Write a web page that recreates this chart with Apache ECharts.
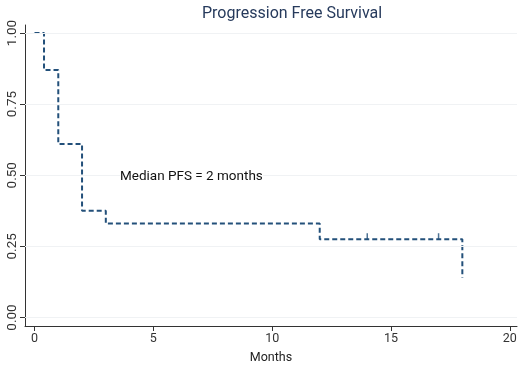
<!DOCTYPE html>
<html>
<head>
<meta charset="utf-8">
<script src="https://cdn.jsdelivr.net/npm/echarts@6/dist/echarts.min.js"></script>
<style>
  html, body { margin: 0; padding: 0; background: #fff; }
  #chart { width: 520px; height: 369px; }
</style>
</head>
<body>
<div id="chart"></div>
<script>
// Kaplan-Meier step points (months, survival)
const months = [0, 0.4, 1, 2, 3, 12, 18];
const survival = [1, 0.87, 0.61, 0.375, 0.33, 0.275, 0.14];
// censored observations
const censorMonths = [14, 17];
const censorSurvival = [0.275, 0.275];

const xTicks = [0, 5, 10, 15, 20];
const yTicks = [0, 0.25, 0.5, 0.75, 1];
const yTickLabels = ["0.00", "0.25", "0.50", "0.75", "1.00"];

const lineColor = "#23507a";
const font = "Roboto";

const chart = echarts.init(document.getElementById("chart"));

chart.setOption({
  backgroundColor: "#ffffff",
  animation: false,
  title: {
    text: "Progression Free Survival",
    left: 197,
    top: 1,
    textStyle: {
      fontFamily: font,
      fontSize: 16,
      fontWeight: "normal",
      color: "#263a5c",
    },
  },
  grid: {
    left: 25,
    right: 3,
    top: 25,
    bottom: 37,
  },
  xAxis: {
    type: "value",
    min: -0.4,
    max: 20.3,
    name: "Months",
    nameLocation: "middle",
    nameGap: 25,
    nameTextStyle: { fontFamily: font, fontSize: 12.5, color: "#222" },
    axisLine: { show: true, onZero: false, lineStyle: { color: "#333", width: 1 } },
    axisTick: {
      show: true,
      length: 5,
      customValues: xTicks,
      lineStyle: { color: "#333" },
    },
    axisLabel: {
      customValues: xTicks,
      fontFamily: font,
      fontSize: 12.5,
      color: "#333",
      margin: 6,
    },
    splitLine: { show: false },
  },
  yAxis: {
    type: "value",
    min: -0.03,
    max: 1.028,
    axisLine: { show: true, onZero: false, lineStyle: { color: "#333", width: 1 } },
    axisTick: {
      show: true,
      length: 5,
      customValues: yTicks,
      lineStyle: { color: "#333" },
    },
    axisLabel: {
      customValues: yTicks,
      rotate: 90,
      fontFamily: font,
      fontSize: 13.5,
      color: "#333",
      margin: 5,
      formatter: (v) => yTickLabels[yTicks.indexOf(v)] ?? "",
    },
    splitLine: { show: false },
  },
  series: [
    {
      name: "grid",
      type: "line",
      data: [],
      z: 0,
      markLine: {
        silent: true,
        symbol: "none",
        label: { show: false },
        lineStyle: { color: "#f0f2f4", width: 1, type: "solid" },
        data: yTicks.map((v) => ({ yAxis: v })),
      },
    },
    {
      name: "PFS",
      type: "line",
      step: "end",
      data: months.map((m, i) => [m, survival[i]]),
      showSymbol: false,
      lineStyle: {
        color: lineColor,
        width: 2,
        type: [5, 3],
      },
      z: 3,
    },
    {
      name: "Censored",
      type: "scatter",
      data: censorMonths.map((m, i) => [m, censorSurvival[i]]),
      symbol: "rect",
      symbolSize: [1.5, 6],
      symbolOffset: [0, -3],
      itemStyle: { color: lineColor },
      z: 4,
    },
  ],
  graphic: [
    {
      type: "text",
      left: 120,
      top: 170,
      z: 100,
      style: {
        text: "Median PFS = 2 months",
        fontFamily: font,
        fontSize: 13.5,
        fill: "#111",
        backgroundColor: "#fff",
      },
    },
  ],
});

window.addEventListener("resize", () => chart.resize());
</script>
</body>
</html>
